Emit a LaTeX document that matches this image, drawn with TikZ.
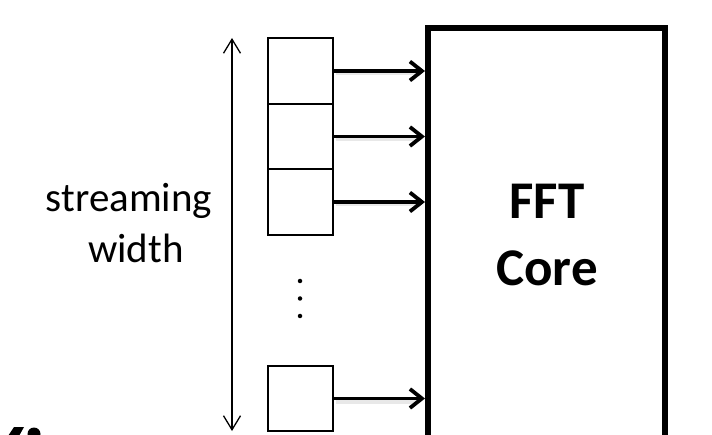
\documentclass[tikz,border=0pt]{standalone}
\usepackage{fontspec}
\setmainfont{Carlito}
\usetikzlibrary{arrows.meta}
\begin{document}
\begin{tikzpicture}[x=1pt,y=-1pt,
  cell/.style={draw, line width=2.4pt, minimum width=65pt, minimum height=65.5pt, inner sep=0pt},
  feed/.style={line width=3.8pt, -{Straight Barb[length=12pt,width=19pt]}},
  feedshadow/.style={line width=6pt, black!9},
  span/.style={line width=1.3pt, {Straight Barb[length=14pt,width=17pt]}-{Straight Barb[length=14pt,width=17pt]}},
  lbl/.style={font=\fontsize{41}{51}\selectfont, anchor=base, inner sep=0pt},
  corelbl/.style={font=\bfseries\fontsize{53}{67}\selectfont, align=center},
  vdot/.style={circle, fill=black, inner sep=0pt, minimum size=4.5pt},
  frag/.style={fill=black}]
\clip (0,0) rectangle (712,435);
\useasboundingbox (0,0) rectangle (712,435);

% arrows' soft shadows (behind everything)
\foreach \yy in {69,135,200,398}{
  \coordinate (sh\yy a) at (336,\yy+3);
  \coordinate (sh\yy b) at (418,\yy+3);
  \draw[feedshadow] (sh\yy a) -- (sh\yy b);
}

% FFT core
\node[draw, line width=6pt, minimum width=237pt, minimum height=442pt, inner sep=0pt] (core) at (546.5,249) {};
\node[corelbl] (coretext) at (547,235) {FFT\\Core};

% cells
\node[cell] (c1) at (300.5,71) {};
\node[cell] (c2) at (300.5,136.5) {};
\node[cell] (c3) at (300.5,202) {};
\node[cell] (c4) at (300.5,398.5) {};

% dots
\node[vdot] (d1) at (300,281) {};
\node[vdot] (d2) at (300,298.5) {};
\node[vdot] (d3) at (300,316) {};

% arrows
\foreach \c in {c1,c2,c3,c4}{
  \draw[feed] (\c.east) -- (core.west |- \c.east);
}

% streaming width span
\coordinate (stop) at (232,38);
\coordinate (sbot) at (232,431);
\draw[span] (sbot) -- (stop);
\node[lbl] (l1) at (129,212) {streaming};
\node[lbl] (l2) at (136,263) {width};

% cropped fragment at bottom left
\fill[frag] (8,436) -- (14,427) -- (24,427) -- (19,436) -- cycle;
\fill[frag] (34,434) circle (6.5);
\end{tikzpicture}
\end{document}
